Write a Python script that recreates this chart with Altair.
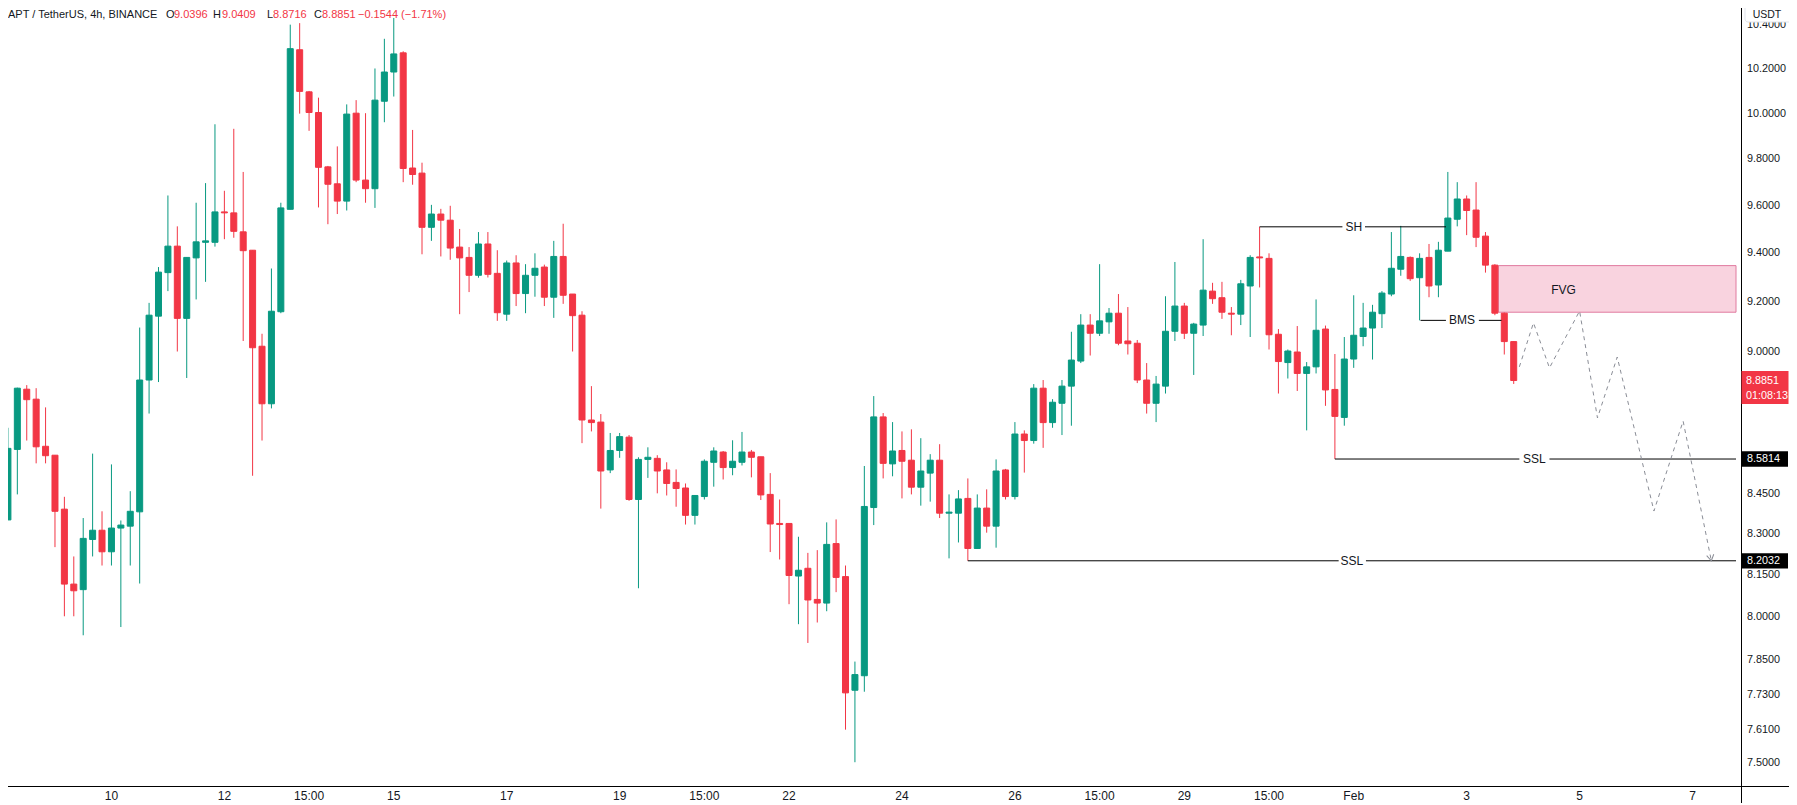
import altair as alt
import pandas as pd

GREEN = "#089981"
RED = "#f23645"
INK = "#131722"
FONT = "Liberation Sans"

# ---------------- candle data (4h candles, index 0 = Jan 10 first candle) ----------------
first_index = -11
opens = [8.353, 8.618, 8.851, 8.812, 8.630, 8.596, 8.393, 8.119, 8.099, 8.281, 8.315,
         8.236, 8.323, 8.330, 8.383, 8.887, 9.142, 9.320, 9.430, 9.133, 9.381, 9.446,
         9.446, 9.574, 9.570, 9.490, 9.413, 9.021, 8.794, 9.160, 9.585, 10.287, 10.097,
         10.005, 9.767, 9.694, 9.620, 10.002, 9.710, 9.673, 10.055, 10.186, 10.273, 9.762,
         9.740, 9.509, 9.565, 9.539, 9.426, 9.383, 9.309, 9.439, 9.317, 9.150, 9.360,
         9.234, 9.309, 9.343, 9.219, 9.387, 9.232, 9.146, 8.731, 8.723, 8.540, 8.614,
         8.665, 8.429, 8.580, 8.584, 8.540, 8.493, 8.472, 8.370, 8.440, 8.569, 8.608,
         8.549, 8.569, 8.608, 8.590, 8.448, 8.340, 8.340, 8.148, 8.176, 8.064, 8.051,
         8.266, 8.146, 7.746, 7.796, 8.399, 8.743, 8.563, 8.614, 8.577, 8.475, 8.528,
         8.577, 8.378, 8.378, 8.433, 8.248, 8.397, 8.330, 8.540, 8.440, 8.677, 8.652,
         8.855, 8.721, 8.796, 8.863, 8.962, 9.106, 9.073, 9.119, 9.154, 9.042, 9.033,
         8.887, 8.796, 8.863, 9.081, 9.183, 9.073, 9.106, 9.244, 9.217, 9.154, 9.150,
         9.265, 9.385, 9.379, 9.069, 8.956, 8.998, 8.913, 8.939, 9.090, 8.850, 8.741,
         8.970, 9.060, 9.094, 9.152, 9.232, 9.334, 9.383, 9.299, 9.383, 9.269, 9.409,
         9.543, 9.629, 9.582, 9.472, 9.351, 9.154, 9.0396]
highs = [8.701, 8.857, 8.867, 8.855, 8.780, 8.596, 8.439, 8.219, 8.360, 8.602, 8.385,
         8.561, 8.351, 8.460, 9.096, 9.196, 9.343, 9.644, 9.513, 9.383, 9.613, 9.697,
         9.953, 9.664, 9.933, 9.745, 9.413, 9.071, 9.337, 9.613, 10.402, 10.409, 10.101,
         10.071, 9.771, 9.856, 10.041, 10.060, 10.002, 10.202, 10.337, 10.433, 10.280, 9.928,
         9.785, 9.604, 9.587, 9.600, 9.502, 9.426, 9.489, 9.489, 9.413, 9.370, 9.392,
         9.355, 9.400, 9.353, 9.452, 9.524, 9.232, 9.162, 8.863, 8.754, 8.681, 8.681,
         8.673, 8.588, 8.626, 8.596, 8.569, 8.542, 8.489, 8.444, 8.580, 8.626, 8.612,
         8.653, 8.685, 8.616, 8.590, 8.528, 8.429, 8.340, 8.291, 8.232, 8.242, 8.344,
         8.355, 8.186, 7.845, 8.555, 8.824, 8.758, 8.723, 8.687, 8.695, 8.661, 8.600,
         8.638, 8.448, 8.464, 8.508, 8.448, 8.467, 8.580, 8.544, 8.723, 8.691, 8.871,
         8.887, 8.812, 8.887, 9.079, 9.150, 9.150, 9.355, 9.175, 9.232, 9.179, 9.046,
         8.954, 8.903, 9.223, 9.364, 9.196, 9.115, 9.459, 9.278, 9.282, 9.179, 9.290,
         9.392, 9.511, 9.400, 9.090, 9.008, 9.102, 8.958, 9.210, 9.104, 8.990, 9.058,
         9.227, 9.196, 9.188, 9.244, 9.489, 9.515, 9.387, 9.400, 9.439, 9.448, 9.745,
         9.701, 9.644, 9.701, 9.489, 9.355, 9.179, 9.0409]
lows = [8.353, 8.448, 8.652, 8.565, 8.565, 8.253, 8.004, 8.004, 7.937, 8.219, 8.186,
        8.186, 7.966, 8.186, 8.121, 8.756, 8.879, 9.244, 9.000, 8.895, 9.210, 9.282,
        9.428, 9.459, 9.465, 9.042, 8.518, 8.652, 8.776, 9.154, 9.585, 10.000, 9.924,
        9.593, 9.522, 9.565, 9.580, 9.701, 9.613, 9.591, 9.962, 10.076, 9.701, 9.690,
        9.396, 9.452, 9.387, 9.373, 9.150, 9.240, 9.299, 9.300, 9.123, 9.123, 9.183,
        9.154, 9.221, 9.183, 9.135, 9.192, 9.000, 8.642, 8.687, 8.395, 8.528, 8.586,
        8.424, 8.104, 8.510, 8.452, 8.444, 8.402, 8.336, 8.336, 8.429, 8.477, 8.504,
        8.520, 8.557, 8.512, 8.427, 8.235, 8.208, 8.047, 7.976, 7.910, 7.982, 8.022,
        8.090, 7.612, 7.503, 7.741, 8.334, 8.508, 8.516, 8.433, 8.448, 8.406, 8.421,
        8.360, 8.212, 8.270, 8.2032, 8.248, 8.306, 8.251, 8.429, 8.429, 8.530, 8.640,
        8.624, 8.701, 8.673, 8.709, 8.954, 8.984, 9.062, 9.071, 9.025, 8.988, 8.875,
        8.756, 8.723, 8.834, 9.042, 9.050, 8.907, 9.062, 9.192, 9.131, 9.065, 9.106,
        9.058, 9.259, 9.008, 8.834, 8.893, 8.844, 8.691, 8.913, 8.786, 8.5814, 8.709,
        8.935, 9.021, 8.968, 9.094, 9.223, 9.307, 9.286, 9.125, 9.219, 9.219, 9.409,
        9.513, 9.476, 9.426, 9.320, 9.146, 8.988, 8.8716]
closes = [8.622, 8.855, 8.810, 8.628, 8.594, 8.385, 8.119, 8.095, 8.285, 8.315, 8.236,
          8.323, 8.334, 8.385, 8.887, 9.146, 9.322, 9.430, 9.133, 9.383, 9.448, 9.452,
          9.574, 9.570, 9.492, 9.411, 9.015, 8.794, 9.162, 9.591, 10.292, 10.099, 10.005,
          9.765, 9.692, 9.620, 9.998, 9.710, 9.673, 10.060, 10.186, 10.268, 9.760, 9.734,
          9.509, 9.565, 9.539, 9.422, 9.381, 9.309, 9.439, 9.313, 9.156, 9.360, 9.234,
          9.309, 9.338, 9.219, 9.387, 9.227, 9.144, 8.731, 8.721, 8.536, 8.614, 8.667,
          8.429, 8.580, 8.588, 8.536, 8.489, 8.470, 8.370, 8.444, 8.573, 8.612, 8.549,
          8.573, 8.608, 8.588, 8.446, 8.338, 8.336, 8.150, 8.169, 8.062, 8.051, 8.263,
          8.143, 7.737, 7.800, 8.403, 8.743, 8.565, 8.612, 8.573, 8.475, 8.536, 8.577,
          8.378, 8.382, 8.431, 8.248, 8.397, 8.330, 8.536, 8.440, 8.677, 8.652, 8.855,
          8.721, 8.800, 8.863, 8.966, 9.106, 9.073, 9.123, 9.154, 9.033, 9.031, 8.887,
          8.796, 8.871, 9.081, 9.183, 9.073, 9.110, 9.248, 9.213, 9.158, 9.150, 9.274,
          9.383, 9.381, 9.067, 8.960, 9.002, 8.913, 8.939, 9.085, 8.848, 8.745, 8.970,
          9.065, 9.094, 9.158, 9.236, 9.338, 9.387, 9.295, 9.379, 9.265, 9.413, 9.548,
          9.629, 9.580, 9.467, 9.351, 9.154, 9.0396, 8.8851]

# ---------------- axes ----------------
tick_idx = [0, 12, 21, 30, 42, 54, 63, 72, 84, 96, 105, 114, 123, 132, 144, 156, 168]
tick_labels = ["10", "12", "15:00", "15", "17", "19", "15:00", "22", "24", "26",
               "15:00", "29", "15:00", "Feb", "3", "5", "7"]
price_ticks = [10.4, 10.2, 10.0, 9.8, 9.6, 9.4, 9.2, 9.0, 8.45, 8.3, 8.15,
               8.0, 7.85, 7.73, 7.61, 7.5]
x_domain = [-10.46, 172.62]
y_domain = [7.4244, 10.479]

# ---------------- annotations ----------------
seg_x = [122.0, 133.2, 139.1, 145.3, 130.0, 152.8, 91.0, 133.3]
seg_x2 = [130.8, 141.8, 141.8, 147.7, 149.6, 172.62, 130.4, 172.62]
seg_p = [9.511, 9.511, 9.125, 9.125, 8.5814, 8.5814, 8.2032, 8.2032]

ann_text = ["SH", "BMS", "SSL", "SSL", "FVG"]
ann_k = [132.0, 143.5, 151.2, 131.8, 154.3]
ann_p = [9.511, 9.125, 8.5814, 8.2032, 9.248]

fvg_x, fvg_x2, fvg_lo, fvg_hi = 147.37, 172.62, 9.158, 9.349

proj_k = [149.6, 151.1, 152.8, 156.0, 157.9, 160.0, 163.9, 167.0, 170.0]
proj_p = [8.939, 9.115, 8.935, 9.163, 8.739, 8.978, 8.386, 8.727, 8.2032]

tag_prices = [8.5814, 8.2032]
last_price = 8.8851
countdown = "01:08:13"

header = [("APT / TetherUS, 4h, BINANCE", 8, INK), ("O", 166, INK), ("9.0396", 174, RED),
          ("H", 213, INK), ("9.0409", 222, RED), ("L", 267, INK), ("8.8716", 273, RED),
          ("C", 314, INK), ("8.8851", 322, RED), ("\u22120.1544 (\u22121.71%)", 358, RED)]

W, H = 1733, 778
PAD_R, PAD_B = 48, 17
AX_FS = 10.8

# ---------------- build ----------------
df = pd.DataFrame({"k": list(range(first_index, first_index + len(opens))),
                   "o": opens, "h": highs, "l": lows, "c": closes})
df["dir"] = ["up" if c >= o else "down" for o, c in zip(opens, closes)]

xs = alt.Scale(domain=x_domain, nice=False, zero=False)
ys = alt.Scale(type="log", domain=y_domain, nice=False, zero=False)
cs = alt.Scale(domain=["up", "down"], range=[GREEN, RED])


def X(f):
    return alt.X(f, scale=xs, axis=None)


def Y(f):
    return alt.Y(f, scale=ys, axis=None)


wicks = alt.Chart(df).mark_rule(strokeWidth=1, clip=True).encode(
    x=X("k:Q"), y=Y("l:Q"), y2="h:Q",
    color=alt.Color("dir:N", scale=cs, legend=None),
)
bodies = alt.Chart(df).mark_bar(size=6, strokeWidth=1, clip=True).encode(
    x=X("k:Q"), y=Y("o:Q"), y2="c:Q",
    color=alt.Color("dir:N", scale=cs, legend=None),
    stroke=alt.Stroke("dir:N", scale=cs, legend=None),
)

fvg = alt.Chart(pd.DataFrame({"x": [fvg_x], "x2": [fvg_x2], "lo": [fvg_lo], "hi": [fvg_hi]})).mark_rect(
    fill="#f9d3df", stroke="#e07a9f", strokeWidth=1).encode(
    x=X("x:Q"), x2="x2:Q", y=Y("lo:Q"), y2="hi:Q")

segs = alt.Chart(pd.DataFrame({"x": seg_x, "x2": seg_x2, "p": seg_p})).mark_rule(
    color="#000000", strokeWidth=1).encode(x=X("x:Q"), x2="x2:Q", y=Y("p:Q"))

anns = alt.Chart(pd.DataFrame({"t": ann_text, "k": ann_k, "p": ann_p})).mark_text(
    font=FONT, fontSize=12, color=INK, align="center", baseline="middle").encode(
    x=X("k:Q"), y=Y("p:Q"), text="t:N")

proj_df = pd.DataFrame({"k": proj_k, "p": proj_p, "i": list(range(len(proj_k)))})
proj = alt.Chart(proj_df).mark_line(color="#8a8d96", strokeWidth=1, strokeDash=[4, 4]).encode(
    x=X("k:Q"), y=Y("p:Q"), order="i:Q")
arrow = alt.Chart(proj_df.tail(1)).mark_point(
    shape="M-0.6,1L0,0L0.6,1", filled=False, size=144, angle=169, color="#8a8d96",
    strokeWidth=1, opacity=1).encode(x=X("k:Q"), y=Y("p:Q"))

# axis lines and labels
one = pd.DataFrame({"a": [0]})
x_line = alt.Chart(one).mark_rule(color="#000000", strokeWidth=1).encode(
    x=alt.value(0), x2=alt.value(W + PAD_R), y=alt.value(H + 0.5))
y_line = alt.Chart(one).mark_rule(color="#000000", strokeWidth=1).encode(
    x=alt.value(W + 0.5), y=alt.value(0), y2=alt.value(H + PAD_B))

xlab = alt.Chart(pd.DataFrame({"k": tick_idx, "t": tick_labels})).mark_text(
    font=FONT, fontSize=12, color=INK, align="center", baseline="middle").encode(
    x=X("k:Q"), y=alt.value(H + 10), text="t:N")
ylab = alt.Chart(pd.DataFrame({"p": price_ticks, "t": [f"{v:.4f}" for v in price_ticks]})).mark_text(
    font=FONT, fontSize=AX_FS, color=INK, align="left", baseline="middle").encode(
    x=alt.value(W + 6), y=Y("p:Q"), text="t:N")

tags_df = pd.DataFrame({"p": tag_prices, "t": [f"{v:.4f}" for v in tag_prices]})
tag_box = alt.Chart(tags_df).mark_point(
    shape="M-1,-0.333L1,-0.333L1,0.333L-1,0.333Z", filled=True, size=2116, color="#000000",
    opacity=1).encode(x=alt.value(W + 24), y=Y("p:Q"))
tag_txt = alt.Chart(tags_df).mark_text(
    font=FONT, fontSize=AX_FS, color="#ffffff", align="left", baseline="middle").encode(
    x=alt.value(W + 6), y=Y("p:Q"), text="t:N")

last_df = pd.DataFrame({"p": [last_price], "t": [f"{last_price:.4f}"], "cd": [countdown]})
last_box = alt.Chart(last_df).mark_point(
    shape="M-1,-0.7L1,-0.7L1,0.7L-1,0.7Z", filled=True, size=2209, color=RED,
    opacity=1, yOffset=7).encode(x=alt.value(W + 24), y=Y("p:Q"))
last_txt = alt.Chart(last_df).mark_text(
    font=FONT, fontSize=AX_FS, color="#ffffff", align="left", baseline="middle").encode(
    x=alt.value(W + 5), y=Y("p:Q"), text="t:N")
last_cd = alt.Chart(last_df).mark_text(
    font=FONT, fontSize=AX_FS, color="#ffffff", align="left", baseline="middle",
    yOffset=15).encode(x=alt.value(W + 5), y=Y("p:Q"), text="cd:N")

usdt_box = alt.Chart(one).mark_rect(fill="#ffffff", stroke="#e0e3eb", strokeWidth=1,
                                    cornerRadius=3).encode(
    x=alt.value(W + 4), x2=alt.value(W + PAD_R + 4), y=alt.value(-4), y2=alt.value(14))
usdt_txt = alt.Chart(pd.DataFrame({"t": ["USDT"]})).mark_text(
    font=FONT, fontSize=10.5, color=INK, align="center", baseline="middle").encode(
    x=alt.value(W + 26), y=alt.value(7), text="t:N")

head_layers = []
for txt, px, col in header:
    head_layers.append(
        alt.Chart(pd.DataFrame({"t": [txt]})).mark_text(
            font=FONT, fontSize=11, color=col, align="left", baseline="middle").encode(
            x=alt.value(px - 8), y=alt.value(7), text="t:N"))

chart = alt.layer(
    wicks, fvg, bodies, segs, anns, proj, arrow,
    x_line, y_line, xlab, ylab,
    tag_box, tag_txt, last_box, last_txt, last_cd,
    usdt_box, usdt_txt, *head_layers,
).properties(
    width=W, height=H,
    padding={"left": 0, "top": 0, "right": PAD_R, "bottom": PAD_B},
    autosize=alt.AutoSizeParams(type="none"),
    background="#ffffff",
).configure_view(stroke=None)

chart.save("out.html", embed_options={"renderer": "svg", "actions": False})
